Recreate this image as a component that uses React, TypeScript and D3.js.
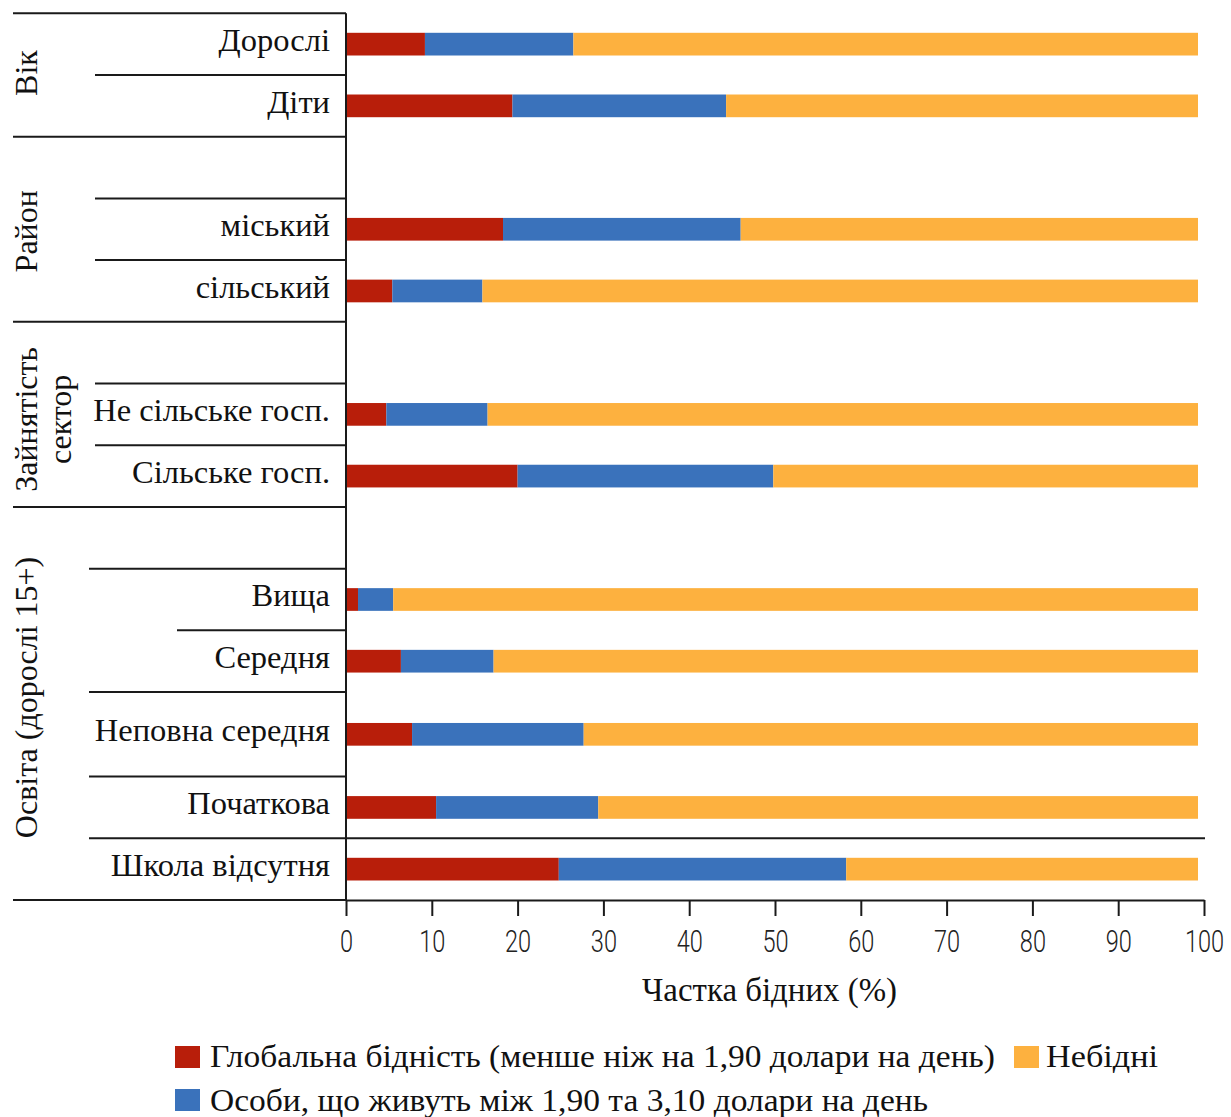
import React, { useEffect, useRef } from "react";
import * as d3 from "d3";

// ---------- data ----------
const categories = [
  "Дорослі",
  "Діти",
  "міський",
  "сільський",
  "Не сільське госп.",
  "Сільське госп.",
  "Вища",
  "Середня",
  "Неповна середня",
  "Початкова",
  "Школа відсутня",
];
const poorValues = [9.2, 19.4, 18.3, 5.4, 4.7, 20.0, 1.4, 6.4, 7.7, 10.5, 24.8];
const vulnerableValues = [17.3, 24.9, 27.7, 10.5, 11.8, 29.8, 4.1, 10.8, 20.0, 18.9, 33.5];
const nonPoorValues = [72.8, 55.0, 53.3, 83.4, 82.8, 49.5, 93.8, 82.1, 71.6, 69.9, 41.0];

const seriesKeys = ["poor", "vulnerable", "nonPoor"];
const seriesLabels = [
  "Глобальна бідність (менше ніж на 1,90 долари на день)",
  "Особи, що живуть між 1,90 та 3,10 долари на день",
  "Небідні",
];
const groupLabels = [["Вік"], ["Район"], ["Зайнятість", "сектор"], ["Освіта (дорослі 15+)"]];
const xTicks = [0, 10, 20, 30, 40, 50, 60, 70, 80, 90, 100];
const xAxisTitle = "Частка бідних (%)";

// ---------- layout ----------
const W = 1231;
const H = 1117;
const colors = ["#b81e0a", "#3a72bb", "#fdb13f"];
const rowOrder: (string | null)[] = [
  "Дорослі", "Діти", null, "міський", "сільський", null,
  "Не сільське госп.", "Сільське госп.", null,
  "Вища", "Середня", "Неповна середня", "Початкова", "Школа відсутня",
];
const rowWeight = rowOrder.map((c) => (c === "Неповна середня" ? 1.37 : 1));
const rowStart: number[] = [];
rowWeight.reduce((acc, w, i) => { rowStart[i] = acc; return acc + w; }, 0);
const totalUnits = d3.sum(rowWeight);
const boundaries = [...rowStart, totalUnits];
const sepStartX = [13, 95, 13, 95, 95, 13, 95, 95, 13, 89, 177, 89, 89, 89, 13];
const groupRowSpans = [[0, 2], [2, 5], [5, 8], [8, 14]];
const groupOffsets = [-2, 2, 5, -6];

const plotLeft = 346;
const plotRight = 1204;
const plotTop = 13.3;
const plotBottom = 900;
const barHeight = 22.7;

const serif = "'Liberation Serif', 'Times New Roman', serif";

export default function App() {
  const axisRef = useRef<SVGGElement>(null);

  const x = d3.scaleLinear().domain([0, 100]).range([plotLeft, plotRight]);
  const y = d3.scaleLinear().domain([0, totalUnits]).range([plotTop, plotBottom]);

  const table = categories.map((c, i) => ({
    category: c,
    poor: poorValues[i],
    vulnerable: vulnerableValues[i],
    nonPoor: nonPoorValues[i],
  }));
  const stacked = d3.stack<any>().keys(seriesKeys)(table);

  const rowCenter = (cat: string) => {
    const i = rowOrder.indexOf(cat);
    return y(rowStart[i] + rowWeight[i] / 2);
  };

  useEffect(() => {
    if (!axisRef.current) return;
    const g = d3.select(axisRef.current);
    g.selectAll("*").remove();
    g.call(
      d3.axisBottom(x).tickValues(xTicks).tickSize(16).tickSizeOuter(0).tickPadding(14)
    );
    g.select(".domain").attr("stroke", "#1a1a1a").attr("stroke-width", 2);
    g.selectAll(".tick line").attr("stroke", "#1a1a1a").attr("stroke-width", 2);
    g.selectAll(".tick text")
      .attr("font-family", "Roboto, 'DejaVu Sans', sans-serif")
      .attr("font-weight", 300)
      .attr("font-size", 31)
      .attr("fill", "#222")
      .attr("transform", "scale(0.76,1)");
  }, []);

  return (
    <svg width={W} height={H} style={{ position: "absolute", left: 0, top: 0, background: "#fff" }}>
      {/* bars */}
      {stacked.map((s, si) => (
        <g key={s.key} fill={colors[si]}>
          {s.map((d: any) => (
            <rect
              key={d.data.category}
              x={x(d[0])}
              y={rowCenter(d.data.category) - barHeight / 2}
              width={x(d[1]) - x(d[0])}
              height={barHeight}
            />
          ))}
        </g>
      ))}

      {/* separator lines */}
      {boundaries.map((b, i) => (
        <line
          key={"sep" + i}
          x1={sepStartX[i]}
          x2={i === 13 ? plotRight + 1 : plotLeft}
          y1={y(b)}
          y2={y(b)}
          stroke="#1a1a1a"
          strokeWidth={2}
        />
      ))}

      {/* vertical axis line */}
      <line x1={plotLeft} x2={plotLeft} y1={plotTop} y2={plotBottom} stroke="#1a1a1a" strokeWidth={2} />

      {/* category labels */}
      {categories.map((c) => (
        <text
          key={"lab" + c}
          x={330}
          y={rowCenter(c) + 7}
          textAnchor="end"
          fontFamily={serif}
          fontSize={32.5}
          fill="#111"
        >
          {c}
        </text>
      ))}

      {/* group labels */}
      {groupLabels.map((lines, gi) => {
        const [a, b] = groupRowSpans[gi];
        const cy = (y(boundaries[a]) + y(boundaries[b])) / 2 + groupOffsets[gi];
        return lines.map((t, li) => (
          <text
            key={"grp" + gi + li}
            transform={`translate(${37 + li * 34},${cy}) rotate(-90)`}
            textAnchor="middle"
            fontFamily={serif}
            fontSize={32}
            fill="#111"
          >
            {t}
          </text>
        ));
      })}

      {/* x axis */}
      <g ref={axisRef} transform={`translate(0,${plotBottom})`} />

      {/* x axis title */}
      <text
        x={642}
        y={1001}
        fontFamily={serif}
        fontSize={34}
        fill="#111"
        textLength={255}
        lengthAdjust="spacingAndGlyphs"
      >
        {xAxisTitle}
      </text>

      {/* legend */}
      <g>
        <rect x={175} y={1046} width={25} height={22} fill={colors[0]} />
        <text x={210} y={1067} fontFamily={serif} fontSize={31} fill="#111" textLength={785} lengthAdjust="spacingAndGlyphs">
          {seriesLabels[0]}
        </text>
        <rect x={1014} y={1046} width={25} height={22} fill={colors[2]} />
        <text x={1046} y={1067} fontFamily={serif} fontSize={31} fill="#111" textLength={112} lengthAdjust="spacingAndGlyphs">
          {seriesLabels[2]}
        </text>
        <rect x={175} y={1089} width={25} height={22} fill={colors[1]} />
        <text x={210} y={1111} fontFamily={serif} fontSize={31} fill="#111" textLength={718} lengthAdjust="spacingAndGlyphs">
          {seriesLabels[1]}
        </text>
      </g>
    </svg>
  );
}
